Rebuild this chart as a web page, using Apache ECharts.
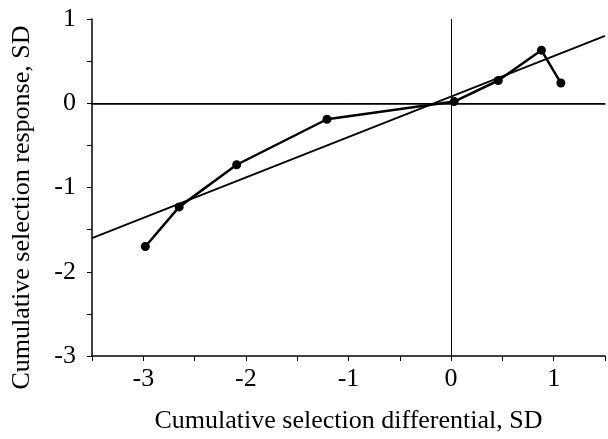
<!DOCTYPE html>
<html>
<head>
<meta charset="utf-8">
<script src="https://cdn.jsdelivr.net/npm/echarts@6/dist/echarts.min.js"></script>
<style>
html,body{margin:0;padding:0;background:#fff;}
#main{width:608px;height:439px;}
</style>
</head>
<body>
<div id="main"></div>
<script>
// observed generations: cumulative differential vs response (SD)
var diffX = [-2.98, -2.65, -2.09, -1.21, 0.03, 0.46, 0.88, 1.07];
var respY = [-1.70, -1.23, -0.73, -0.19, 0.02, 0.27, 0.63, 0.24];
// fitted regression line end points
var fitX = [-3.5, 1.5];
var fitY = [-1.6, 0.8];
var xTicks = [-3, -2, -1, 0, 1];
var yTicks = [-3, -2, -1, 0, 1];

var pts = [];
for (var i = 0; i < diffX.length; i++) pts.push([diffX[i], respY[i]]);
var fit = [];
for (var j = 0; j < fitX.length; j++) fit.push([fitX[j], fitY[j]]);

var font = 'Liberation Serif';
var chart = echarts.init(document.getElementById('main'));

chart.setOption({
    backgroundColor: '#fff',
    animation: false,
    grid: {left: 92, right: 0, top: 19, bottom: 81},
    xAxis: [{
        type: 'value',
        min: -3.5, max: 1.5, interval: 0.5,
        name: 'Cumulative selection differential, SD',
        nameLocation: 'middle',
        nameGap: 52,
        nameTextStyle: {fontFamily: font, fontSize: 26, color: '#000'},
        axisLine: {onZero: false, lineStyle: {color: '#000', width: 1.5}},
        axisTick: {inside: false, length: 5, lineStyle: {color: '#000'}},
        axisLabel: {
            margin: 10, fontFamily: font, fontSize: 26, color: '#000',
            formatter: function (v) { return xTicks.indexOf(v) >= 0 ? String(v) : ''; }
        },
        splitLine: {show: false}
    }, {
        type: 'value', position: 'top',
        min: -3.5, max: 1.5,
        axisLine: {show: true, lineStyle: {color: '#000', width: 1.5}},
        axisTick: {show: false}, axisLabel: {show: false}, splitLine: {show: false}
    }],
    yAxis: {
        type: 'value',
        min: -3, max: 1, interval: 0.5,
        name: 'Cumulative selection response, SD',
        nameLocation: 'middle',
        nameGap: 57,
        nameTextStyle: {fontFamily: font, fontSize: 26, color: '#000', padding: [0, 40, 0, 0]},
        axisLine: {show: true, onZero: false, lineStyle: {color: '#000', width: 1.5}},
        axisTick: {show: true, inside: false, length: 5, lineStyle: {color: '#000'}},
        axisLabel: {
            margin: 16, fontFamily: font, fontSize: 26, color: '#000',
            formatter: function (v) { return yTicks.indexOf(v) >= 0 ? String(v) : ''; }
        },
        splitLine: {show: false}
    },
    series: [{
        type: 'line',
        data: fit,
        symbol: 'none',
        lineStyle: {color: '#000', width: 1.8},
        markLine: {
            silent: true,
            symbol: 'none',
            label: {show: false},
            lineStyle: {color: '#000', width: 1, type: 'solid'},
            data: [{xAxis: 0}, {yAxis: 0}]
        }
    }, {
        type: 'line',
        data: pts,
        symbol: 'circle',
        symbolSize: 9,
        itemStyle: {color: '#000'},
        lineStyle: {color: '#000', width: 2.5}
    }]
});
</script>
</body>
</html>
